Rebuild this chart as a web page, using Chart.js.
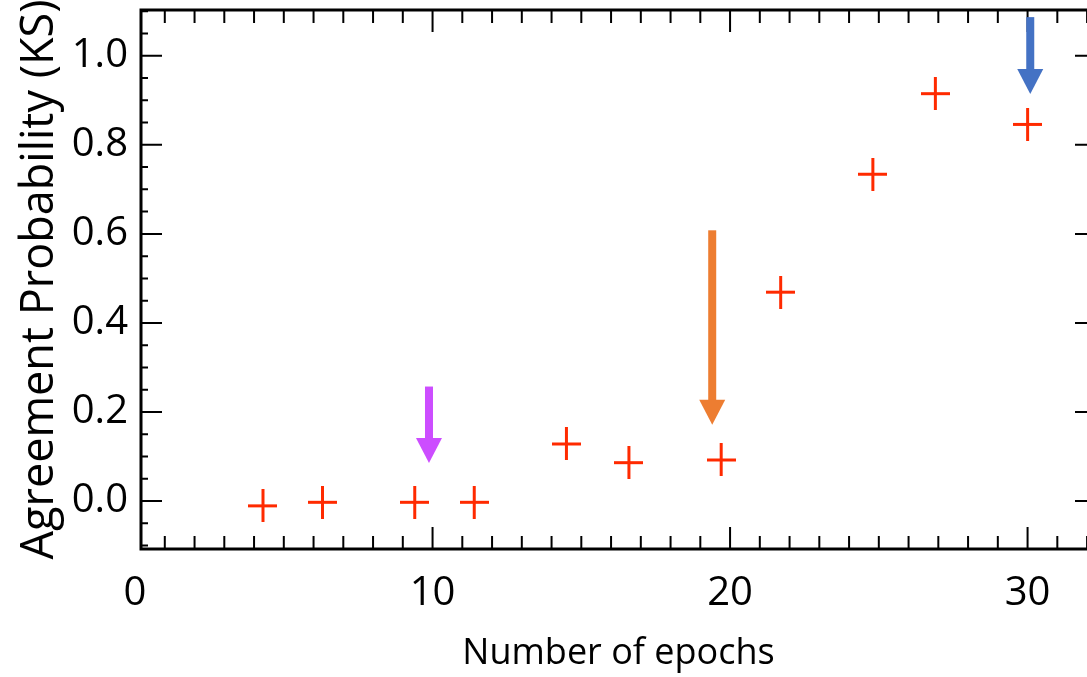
<!DOCTYPE html>
<html>
<head>
<meta charset="utf-8">
<script src="https://cdn.jsdelivr.net/npm/chart.js@4.4.1/dist/chart.umd.min.js"></script>
<style>
  html, body { margin: 0; padding: 0; background: #fff; overflow: hidden; }
  #wrap { width: 1100px; height: 677px; }
</style>
</head>
<body>
<div id="wrap"><canvas id="ksChart" width="1100" height="677"></canvas></div>
<script>
// epochs and KS agreement probability
const epochs = [4.3, 6.3, 9.4, 11.4, 14.5, 16.6, 19.7, 21.7, 24.8, 26.9, 30.0];
const agreement = [-0.011, -0.003, -0.003, -0.003, 0.128, 0.086, 0.092, 0.469, 0.734, 0.915, 0.846];

const xTickLabels = [0, 10, 20, 30];
const yTickLabels = [0.0, 0.2, 0.4, 0.6, 0.8, 1.0];

// arrows marking epochs: x, top of shaft, tip (data units)
const arrowX = [9.88, 19.4, 30.09];
const arrowFrom = [0.257, 0.608, 1.087];
const arrowTo = [0.085, 0.171, 0.914];
const arrowColors = ["#cc4dff", "#ed7d31", "#4472c4"];

// red plus marker, a bit taller than wide
const plus = document.createElement("canvas");
plus.width = 29;
plus.height = 33;
const pc = plus.getContext("2d");
pc.fillStyle = "#ff2a00";
pc.fillRect(0, 15, 29, 3);
pc.fillRect(13, 0, 3, 33);

// box frame with inward ticks on all four sides
const frameTicks = {
  id: "frameTicks",
  beforeDatasetsDraw(chart) {
    const { ctx, chartArea: a, scales: { x, y } } = chart;
    ctx.save();
    ctx.strokeStyle = "#000";
    ctx.lineWidth = 2;
    ctx.beginPath();
    for (let v = Math.ceil(x.min); v <= x.max; v++) {
      const px = x.getPixelForValue(v);
      const len = v % 10 === 0 ? 22 : 13;
      ctx.moveTo(px, a.bottom);
      ctx.lineTo(px, a.bottom - len);
      ctx.moveTo(px, a.top);
      ctx.lineTo(px, a.top + len);
    }
    for (let i = Math.ceil(y.min / 0.05); i * 0.05 <= y.max + 1e-9; i++) {
      const py = y.getPixelForValue(i * 0.05);
      const len = i % 4 === 0 ? 21 : 7;
      ctx.moveTo(a.left, py);
      ctx.lineTo(a.left + len, py);
      ctx.moveTo(a.right, py);
      ctx.lineTo(a.right - len, py);
    }
    ctx.stroke();
    ctx.lineWidth = 3;
    ctx.strokeRect(a.left, a.top, a.right - a.left, a.bottom - a.top);
    ctx.restore();
  },
};

const arrows = {
  id: "arrows",
  afterDatasetsDraw(chart) {
    const { ctx, scales: { x, y } } = chart;
    ctx.save();
    arrowX.forEach((v, i) => {
      const px = x.getPixelForValue(v);
      const top = y.getPixelForValue(arrowFrom[i]);
      const tip = y.getPixelForValue(arrowTo[i]);
      const head = 25;
      ctx.fillStyle = arrowColors[i];
      ctx.fillRect(px - 4, top, 8, tip - head - top + 1);
      ctx.beginPath();
      ctx.moveTo(px - 13, tip - head);
      ctx.lineTo(px + 13, tip - head);
      ctx.lineTo(px, tip);
      ctx.closePath();
      ctx.fill();
    });
    ctx.restore();
  },
};

// no label overhang padding, the frame sits where the axes say
function noPad(s) {
  s.paddingLeft = 0;
  s.paddingRight = 0;
  s.paddingTop = 0;
  s.paddingBottom = 0;
}

new Chart(document.getElementById("ksChart"), {
  type: "scatter",
  data: {
    datasets: [
      {
        data: epochs.map((e, i) => ({ x: e, y: agreement[i] })),
        pointStyle: plus,
        pointRadius: 15,
        pointBorderWidth: 0,
      },
    ],
  },
  options: {
    responsive: false,
    devicePixelRatio: 1,
    animation: false,
    layout: { autoPadding: false, padding: { left: 0, right: 4, top: 10, bottom: 0 } },
    plugins: {
      legend: { display: false },
      tooltip: { enabled: false },
    },
    scales: {
      x: {
        type: "linear",
        min: 0.2,
        max: 32.3,
        grid: { display: false, drawTicks: false },
        border: { display: false },
        afterBuildTicks: (s) => {
          s.ticks = xTickLabels.map((v) => ({ value: v }));
        },
        afterFit: (s) => {
          s.height = 128;
          noPad(s);
        },
        ticks: {
          autoSkip: false,
          maxRotation: 0,
          padding: 21,
          color: "#000",
          font: { family: "Open Sans", size: 40 },
          callback: (v) => String(v),
        },
        title: {
          display: true,
          text: "Number of epochs",
          color: "#000",
          font: { family: "Open Sans", size: 36 },
          padding: { top: 0, bottom: 2 },
        },
      },
      y: {
        type: "linear",
        min: -0.108,
        max: 1.103,
        grid: { display: false, drawTicks: false },
        border: { display: false },
        afterBuildTicks: (s) => {
          s.ticks = yTickLabels.map((v) => ({ value: v }));
        },
        afterFit: (s) => {
          s.width = 141;
          noPad(s);
        },
        ticks: {
          autoSkip: false,
          padding: 13,
          color: "#000",
          font: { family: "Open Sans", size: 40 },
          callback: (v) => v.toFixed(1),
        },
        title: {
          display: true,
          text: "Agreement Probability (KS)",
          color: "#000",
          font: { family: "Open Sans", size: 45 },
          padding: { top: 13, bottom: 0 },
        },
      },
    },
  },
  plugins: [frameTicks, arrows],
});
</script>
</body>
</html>
